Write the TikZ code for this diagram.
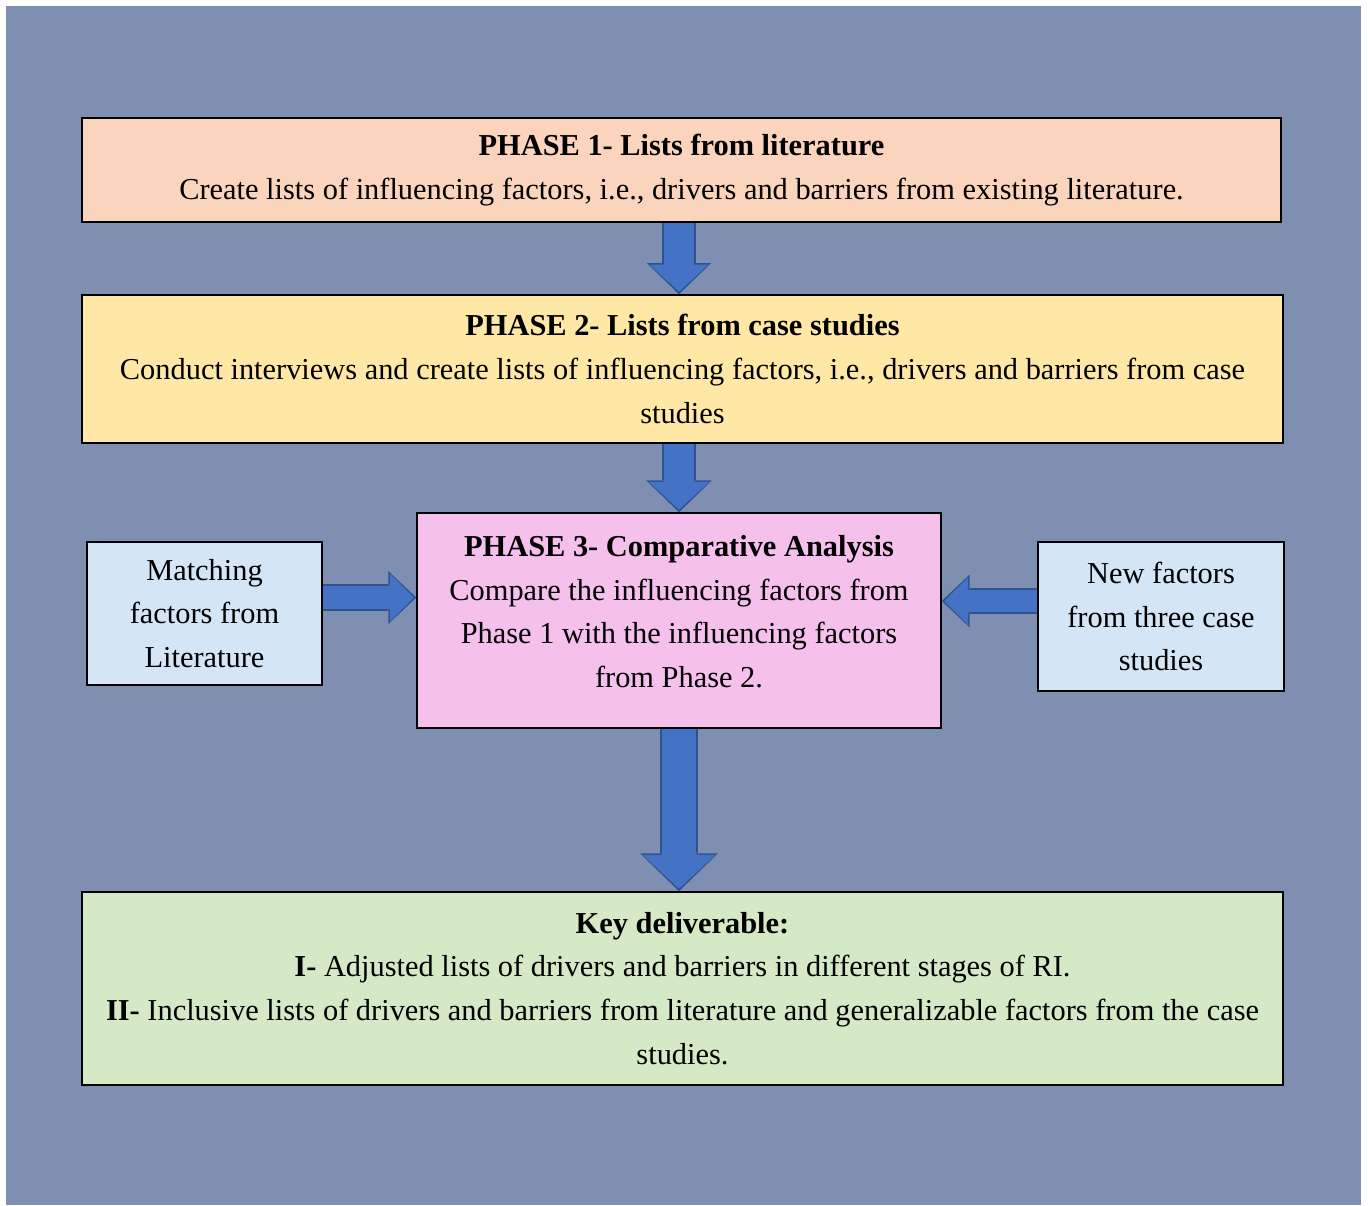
\documentclass[tikz,border=0pt]{standalone}
\usepackage{fontspec}
\setmainfont{Liberation Serif}
\usetikzlibrary{arrows.meta, calc}

\definecolor{backblue}{RGB}{127,143,177}
\definecolor{phaseone}{RGB}{250,212,188}
\definecolor{phasetwo}{RGB}{255,232,166}
\definecolor{phasethree}{RGB}{245,192,235}
\definecolor{sidebox}{RGB}{212,229,246}
\definecolor{deliver}{RGB}{213,233,199}
\definecolor{arrowblue}{RGB}{68,114,196}
\definecolor{arrowedge}{RGB}{47,82,143}

\tikzset{
	phasebox/.style={draw=black, line width=0.9pt, align=center, inner sep=0pt,
		font=\fontsize{17.3}{24.9}\selectfont},
	arrowout/.style n args={3}{draw=arrowedge, line width=#1,
		-{Triangle[width=#2, length=#3, line width=0pt]}},
	arrowin/.style n args={3}{draw=arrowblue, line width=#1,
		-{Triangle[width=#2, length=#3, line width=0pt]}, shorten >=0.05cm},
}

\begin{document}
\begin{tikzpicture}[x=0.02cm, y=-0.02cm]
	% Background and margins:
	\useasboundingbox (0, 0) rectangle (1368, 1205);
	\fill[backblue] (6, 6) rectangle (1361, 1205);
	% Boxes:
	\node[phasebox, fill=phaseone, minimum width=23.98cm, minimum height=2.08cm] (p1) at (681.5, 170)
		{\textbf{PHASE 1- Lists from literature}\\Create lists of influencing factors, i.e., drivers and barriers from existing literature.};
	\node[phasebox, fill=phasetwo, minimum width=24.02cm, minimum height=2.96cm] (p2) at (682.5, 369)
		{\textbf{PHASE 2- Lists from case studies}\\Conduct interviews and create lists of influencing factors, i.e., drivers and barriers from case\\studies};
	\node[phasebox, fill=phasethree, minimum width=10.48cm, minimum height=4.3cm] (p3) at (679, 620.5)
		{\textbf{PHASE 3- Comparative Analysis}\\Compare the influencing factors from\\Phase 1 with the influencing factors\\from Phase 2.\\[-14.7pt]\mbox{}};
	\node[phasebox, fill=sidebox, minimum width=4.7cm, minimum height=2.86cm] (lit) at (204.5, 613.5)
		{Matching\\factors from\\Literature};
	\node[phasebox, fill=sidebox, minimum width=4.92cm, minimum height=2.98cm] (new) at (1161, 616.5)
		{New factors\\from three case\\studies};
	\node[phasebox, fill=deliver, minimum width=24.02cm, minimum height=3.86cm] (p4) at (682.5, 988.5)
		{\textbf{Key deliverable:}\\\textbf{I-} Adjusted lists of drivers and barriers in different stages of RI.\\\textbf{II-} Inclusive lists of drivers and barriers from literature and generalizable factors from the case\\studies.};
	% Arrow starts on the side boxes:
	\coordinate (litout) at ($(lit.east)+(0, -16)$);
	\coordinate (newout) at ($(new.west)+(0, -15.5)$);
	% Block arrows:
	\draw[arrowout={0.68cm}{1.28cm}{0.62cm}] (p3.north |- p1.south) -- (p3.north |- p2.north);
	\draw[arrowin={0.6cm}{1.18cm}{0.54cm}] (p3.north |- p1.south) -- (p3.north |- p2.north);
	\draw[arrowout={0.68cm}{1.32cm}{0.64cm}] (p3.north |- p2.south) -- (p3.north);
	\draw[arrowin={0.6cm}{1.22cm}{0.56cm}] (p3.north |- p2.south) -- (p3.north);
	\draw[arrowout={0.76cm}{1.56cm}{0.76cm}] (p3.south) -- (p3.south |- p4.north);
	\draw[arrowin={0.68cm}{1.46cm}{0.68cm}] (p3.south) -- (p3.south |- p4.north);
	\draw[arrowout={0.54cm}{1.06cm}{0.56cm}] (litout) -- (litout -| p3.west);
	\draw[arrowin={0.46cm}{0.96cm}{0.48cm}] (litout) -- (litout -| p3.west);
	\draw[arrowout={0.52cm}{1.06cm}{0.56cm}] (newout) -- (newout -| p3.east);
	\draw[arrowin={0.44cm}{0.96cm}{0.48cm}] (newout) -- (newout -| p3.east);
\end{tikzpicture}
\end{document}
